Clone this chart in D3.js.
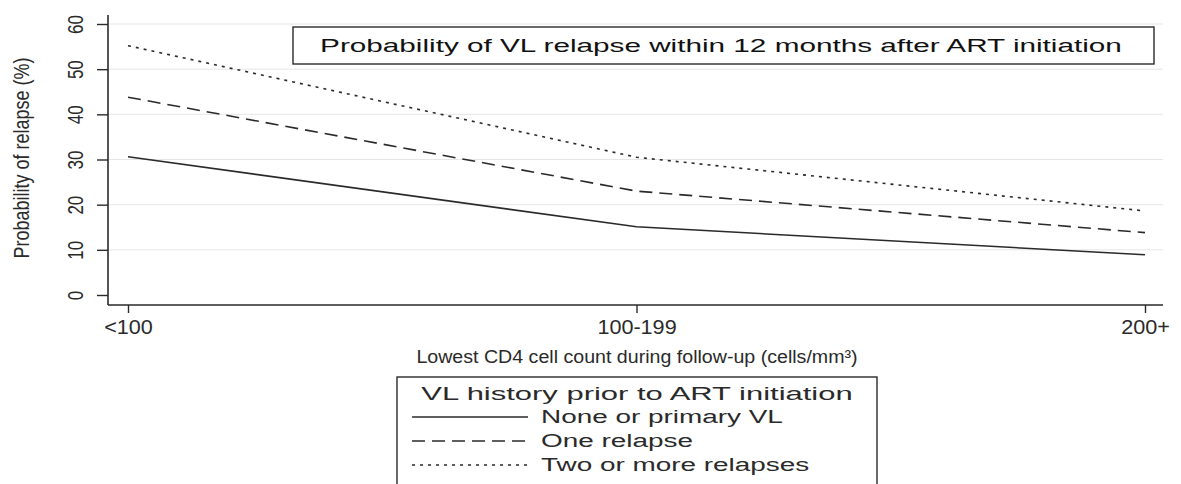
<!DOCTYPE html>
<html><head><meta charset="utf-8">
<script src="https://cdn.jsdelivr.net/npm/d3@7"></script>
<style>
body{margin:0;background:#fff;}
svg{display:block;}
</style></head>
<body>
<svg id="c" width="1181" height="484"></svg>
<script>
const categories = ["<100", "100-199", "200+"];
const yTicks = [0, 10, 20, 30, 40, 50, 60];
const seriesNames = ["None or primary VL", "One relapse", "Two or more relapses"];
const noneOrPrimary = [30.6, 15.1, 8.9];
const oneRelapse = [43.8, 23.0, 13.8];
const twoOrMore = [55.2, 30.5, 18.6];

const series = [
  {name: seriesNames[0], values: noneOrPrimary, dash: null},
  {name: seriesNames[1], values: oneRelapse, dash: "13,7"},
  {name: seriesNames[2], values: twoOrMore, dash: "3,5"}
];

const svg = d3.select("#c");
const sans = "'Liberation Sans',Arial,sans-serif";
const ink = "#2a2a2a";

const axisX = 108, axisY = 305, plotRight = 1163;
const x = d3.scalePoint().domain(categories).range([128, 1145]);
const y = d3.scaleLinear().domain([0, 60]).range([295, 24]);

function widen(sel, factor) {
  sel.each(function() {
    const w = this.getComputedTextLength();
    d3.select(this).attr("textLength", w * factor).attr("lengthAdjust", "spacingAndGlyphs");
  });
}

// gridlines
svg.append("g").selectAll("line").data(yTicks.filter(d => d > 0)).join("line")
  .attr("x1", axisX).attr("x2", plotRight)
  .attr("y1", d => y(d)).attr("y2", d => y(d))
  .attr("stroke", "#e6e6e6").attr("stroke-width", 1);

// y axis
const yAxis = svg.append("g").attr("transform", `translate(${axisX},0)`)
  .call(d3.axisLeft(y).tickValues(yTicks).tickSize(11).tickFormat(d3.format("d")));
yAxis.select(".domain").attr("d", `M0,15V${axisY}`).attr("stroke", ink).attr("stroke-width", 1.6);
yAxis.selectAll(".tick line").attr("stroke", ink).attr("stroke-width", 1.4);
yAxis.selectAll(".tick text")
  .attr("font-family", sans).attr("font-size", 17).attr("fill", ink)
  .attr("x", 0).attr("dy", 0)
  .attr("text-anchor", "middle")
  .attr("transform", "translate(-33,0) scale(1.3,1) rotate(-90)")
  .attr("dominant-baseline", "central");

// x axis
const xAxis = svg.append("g").attr("transform", `translate(0,${axisY})`)
  .call(d3.axisBottom(x).tickSize(8).tickPadding(7));
xAxis.select(".domain").attr("d", `M${axisX},0H${plotRight}`).attr("stroke", ink).attr("stroke-width", 1.6);
xAxis.selectAll(".tick line").attr("stroke", ink).attr("stroke-width", 1.4);
xAxis.selectAll(".tick text").attr("font-family", sans).attr("font-size", 20).attr("fill", ink);
widen(xAxis.selectAll(".tick text"), 1.08);

// axis titles
svg.append("text").attr("transform", "translate(21,158) scale(1.2,1) rotate(-90)")
  .attr("text-anchor", "middle").attr("dominant-baseline", "central")
  .attr("font-family", sans).attr("font-size", 18).attr("fill", ink)
  .text("Probability of relapse (%)");
svg.append("text").attr("x", 637).attr("y", 363)
  .attr("text-anchor", "middle")
  .attr("font-family", sans).attr("font-size", 17.5).attr("fill", ink)
  .text("Lowest CD4 cell count during follow-up (cells/mm³)")
  .call(widen, 1.12);

// lines
const line = d3.line().x((d, i) => x(categories[i])).y(d => y(d));
svg.append("g").selectAll("path").data(series).join("path")
  .attr("d", d => line(d.values))
  .attr("fill", "none").attr("stroke", ink).attr("stroke-width", 1.6)
  .attr("stroke-dasharray", d => d.dash);

// title box
svg.append("rect").attr("x", 293).attr("y", 27).attr("width", 861).attr("height", 37)
  .attr("fill", "#fff").attr("stroke", ink).attr("stroke-width", 1.4);
svg.append("text").attr("x", 721).attr("y", 52).attr("text-anchor", "middle")
  .attr("font-family", sans).attr("font-size", 18).attr("fill", "#111")
  .text("Probability of VL relapse within 12 months after ART initiation")
  .call(widen, 1.65);

// legend
const lg = svg.append("g");
lg.append("rect").attr("x", 397).attr("y", 377).attr("width", 480).attr("height", 120)
  .attr("fill", "#fff").attr("stroke", ink).attr("stroke-width", 1.4);
lg.append("text").attr("x", 637).attr("y", 400).attr("text-anchor", "middle")
  .attr("font-family", sans).attr("font-size", 18).attr("fill", ink)
  .text("VL history prior to ART initiation")
  .call(widen, 1.72);
const rows = lg.selectAll("g.row").data(series).join("g").attr("class", "row")
  .attr("transform", (d, i) => `translate(0,${417 + i * 24})`);
rows.append("line").attr("x1", 412).attr("x2", 528).attr("y1", 0).attr("y2", 0)
  .attr("stroke", ink).attr("stroke-width", 1.4).attr("stroke-dasharray", d => d.dash);
rows.append("text").attr("x", 541).attr("y", 0).attr("dominant-baseline", "central")
  .attr("font-family", sans).attr("font-size", 18).attr("fill", ink)
  .text(d => d.name)
  .call(widen, 1.55);
</script>
</body></html>
